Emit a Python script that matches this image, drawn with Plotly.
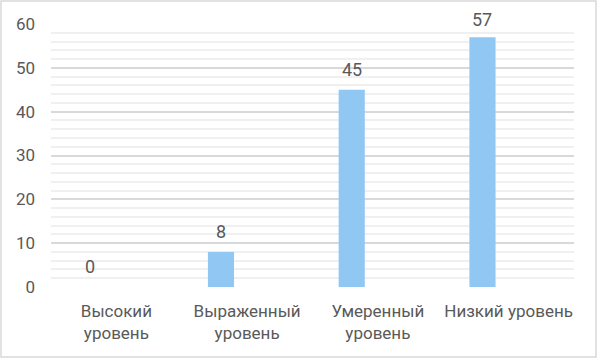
import plotly.graph_objects as go

categories = ["Высокий<br>уровень", "Выраженный<br>уровень", "Умеренный<br>уровень", "Низкий уровень"]
values = [0, 8, 45, 57]
y_ticks = [0, 10, 20, 30, 40, 50, 60]

W, H = 598, 359
L, R, T, B = 51, 24, 24, 72
FONT = "Roboto"
TXT = "#595959"

fig = go.Figure()
fig.add_trace(go.Bar(
    x=categories, y=values,
    width=0.2, offset=-0.3,
    marker=dict(color="#91C7F3", line=dict(width=0)),
    hoverinfo="x+y",
))

pw = W - L - R
ph = H - T - B
cat_px = pw / len(categories)
for c, v in zip(categories, values):
    fig.add_annotation(
        x=c, y=v, text=str(v), showarrow=False,
        xshift=-0.2 * cat_px, yshift=8 if v < 55 else 5, yanchor="bottom",
        font=dict(family=FONT, size=18, color=TXT),
    )

fig.add_shape(
    type="rect", xref="paper", yref="paper",
    x0=(1 - L) / pw, x1=(W - 2 - L) / pw,
    y0=-(H - 2 - (T + ph)) / ph, y1=(T + ph - 1) / ph,
    line=dict(color="#d9d9d9", width=1.5), fillcolor="rgba(0,0,0,0)",
    layer="below",
)

fig.update_layout(
    width=W, height=H,
    margin=dict(l=L, r=R, t=T, b=B, autoexpand=False),
    paper_bgcolor="white", plot_bgcolor="white",
    showlegend=False,
    font=dict(family=FONT, size=17, color=TXT),
    xaxis=dict(
        type="category", showgrid=False, zeroline=False, showline=False,
        ticks="", ticklabelstandoff=12,
        tickfont=dict(family=FONT, size=17, color=TXT),
    ),
    yaxis=dict(
        range=[0, 60], tickvals=y_ticks, showgrid=True,
        gridcolor="#d9d9d9", gridwidth=1.5,
        zeroline=False, showline=False, ticks="",
        ticklabelstandoff=15,
        tickfont=dict(family=FONT, size=17, color=TXT),
        minor=dict(dtick=2, showgrid=True, gridcolor="#f0f0f0", gridwidth=1.5),
    ),
)

fig.write_html(
    "out.html",
    config={"displayModeBar": False},
    post_script="document.body.style.margin='0';document.body.style.overflow='hidden';",
)
